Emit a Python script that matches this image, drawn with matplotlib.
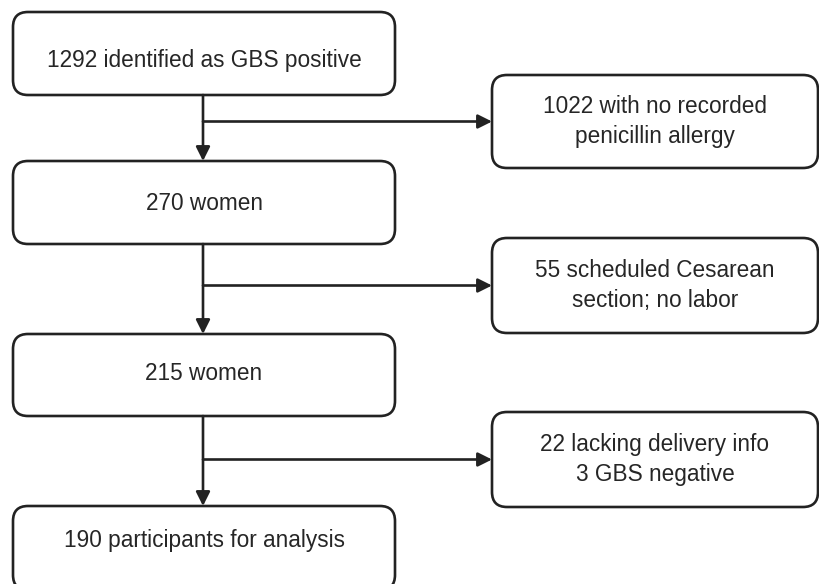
import matplotlib.pyplot as plt
from matplotlib.patches import FancyBboxPatch

plt.rcParams['font.family'] = ['Liberation Sans', 'DejaVu Sans']

# flow boxes (main column) and exclusion boxes (right column)
main_labels = ['1292 identified as GBS positive', '270 women', '215 women',
               '190 participants for analysis']
excl_labels = ['1022 with no recorded\npenicillin allergy',
               '55 scheduled Cesarean\nsection; no labor',
               '22 lacking delivery info\n3 GBS negative']

# layout in pixels (y down)
main_x0, main_x1 = 13, 395
main_y = [(12, 95), (161, 244), (334, 416), (506, 590)]
main_text_y = [60, 203, 374, 540]
excl_x0, excl_x1 = 492, 818
excl_y = [(75, 168), (238, 333), (412, 507)]
trunk_x = 203

ink = '#222222'
lw = 1.9

fig = plt.figure(figsize=(8.19, 5.84), dpi=100)
ax = fig.add_axes([0, 0, 1, 1])
ax.set_xlim(0, 819)
ax.set_ylim(584, 0)
ax.axis('off')


def draw_box(x0, x1, y0, y1, text, ty):
    box = FancyBboxPatch((x0, y0), x1 - x0, y1 - y0,
                         boxstyle='round,pad=0,rounding_size=15',
                         fc='white', ec=ink, lw=lw)
    ax.add_patch(box)
    ax.text((x0 + x1) / 2, ty, text, ha='center', va='center',
            fontsize=16.3, color='#262626', linespacing=1.42)


for (y0, y1), lab, ty in zip(main_y, main_labels, main_text_y):
    draw_box(main_x0, main_x1, y0, y1, lab, ty)

for (y0, y1), lab in zip(excl_y, excl_labels):
    draw_box(excl_x0, excl_x1, y0, y1, lab, (y0 + y1) / 2)

arrow = dict(arrowstyle='-|>', color=ink, lw=lw, mutation_scale=21,
             shrinkA=0, shrinkB=0)

for i in range(3):
    top = main_y[i][1]
    nxt = main_y[i + 1][0]
    branch_y = (excl_y[i][0] + excl_y[i][1]) / 2
    # vertical trunk with arrow into next box
    ax.annotate('', xy=(trunk_x, nxt), xytext=(trunk_x, top), arrowprops=arrow)
    # side branch to exclusion box
    ax.annotate('', xy=(excl_x0, branch_y), xytext=(trunk_x, branch_y),
                arrowprops=arrow)

fig.savefig('out.png', dpi=100)
